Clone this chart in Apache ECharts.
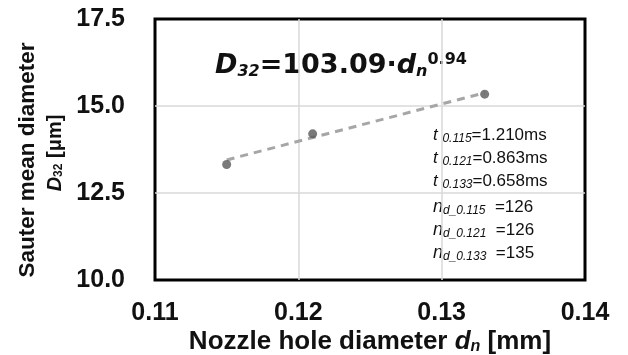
<!DOCTYPE html>
<html><head><meta charset="utf-8">
<script src="https://cdn.jsdelivr.net/npm/echarts@6/dist/echarts.min.js"></script>
<style>html,body{margin:0;padding:0;background:#fff}#c{width:628px;height:355px}</style>
</head><body><div id="c"></div>
<script>
const nozzleDiameters = [0.115, 0.121, 0.133];
const sauterDiameters = [13.32, 14.20, 15.34];
const trendX = [0.115, 0.133];
const trendY = [13.45, 15.38];
const xTicks = [0.11, 0.12, 0.13, 0.14];
const yTicks = [10.0, 12.5, 15.0, 17.5];
const injDurations = [['0.115','1.210'],['0.121','0.863'],['0.133','0.658']];
const holeCounts = [['0.115','126'],['0.121','126'],['0.133','135']];

const chart = echarts.init(document.getElementById('c'));
const F = 'Liberation Sans, Arial, sans-serif';
const sub = {fontFamily:F, fontSize:12, fontStyle:'italic', verticalAlign:'bottom', padding:[7,0,0,0], fill:'#111'};
const textLines = [];
injDurations.forEach(([d,v],i)=>{
  textLines.push({type:'text', left:433, top:127+i*23, style:{
    text:'{i|t }{s|'+d+'}{n|='+v+'ms}',
    rich:{i:{fontFamily:F,fontSize:17,fontStyle:'italic',fill:'#111'}, s:sub, n:{fontFamily:F,fontSize:17,fill:'#111'}}
  }});
});
holeCounts.forEach(([d,v],i)=>{
  textLines.push({type:'text', left:433, top:198+i*23, style:{
    text:'{i|n}{s|d_'+d+'}{n|  ='+v+'}',
    rich:{i:{fontFamily:F,fontSize:18,fontStyle:'italic',fill:'#111'}, s:sub, n:{fontFamily:F,fontSize:17,fill:'#111'}}
  }});
});
chart.setOption({
  animation:false,
  grid:{left:155,right:43,top:19,bottom:75,show:true,borderColor:'#000',borderWidth:3,containLabel:false,outerBoundsMode:'none'},
  xAxis:{type:'value',min:xTicks[0],max:xTicks[xTicks.length-1],interval:0.01,
    axisLine:{show:false},axisTick:{show:false},
    splitLine:{showMinLine:false,showMaxLine:false,lineStyle:{color:'#d9d9d9',width:1.5}},
    axisLabel:{formatter:v=>v.toFixed(2),fontFamily:F,fontWeight:'bold',fontSize:25,color:'#111',margin:21},
    name:'Nozzle hole diameter {i|d}{s|n} [mm]',nameLocation:'middle',nameGap:49,nameMoveOverlap:false,
    nameTextStyle:{fontFamily:F,fontWeight:'bold',fontSize:26,color:'#111',
      rich:{i:{fontFamily:F,fontWeight:'bold',fontStyle:'italic',fontSize:26,color:'#111'},
            s:{fontFamily:F,fontWeight:'bold',fontStyle:'italic',fontSize:16,color:'#111',verticalAlign:'bottom',padding:[10,0,0,0]}}}
  },
  yAxis:{type:'value',min:yTicks[0],max:yTicks[yTicks.length-1],interval:2.5,
    axisLine:{show:false},axisTick:{show:false},
    splitLine:{showMinLine:false,showMaxLine:false,lineStyle:{color:'#d9d9d9',width:1.5}},
    axisLabel:{formatter:v=>v.toFixed(1),fontFamily:F,fontWeight:'bold',fontSize:25,color:'#111',margin:30}
  },
  series:[
    {type:'line',data:trendX.map((x,i)=>[x,trendY[i]]),symbol:'none',
     lineStyle:{color:'#a6a6a6',width:3,type:[8,6]},z:2},
    {type:'scatter',data:nozzleDiameters.map((x,i)=>[x,sauterDiameters[i]]),symbolSize:9,
     itemStyle:{color:'#595959'},z:3}
  ],
  graphic:[
    {type:'text',x:28,y:160,rotation:Math.PI/2,style:{
      text:'Sauter mean diameter',align:'center',verticalAlign:'middle',
      fontFamily:F,fontWeight:'bold',fontSize:22.5,fill:'#111'}},
    {type:'text',x:55,y:153,rotation:Math.PI/2,style:{
      text:'{i|D}{s|32}{n| [μm]}',align:'center',verticalAlign:'middle',
      rich:{i:{fontFamily:F,fontStyle:'italic',fontWeight:'bold',fontSize:20,fill:'#111'},
            s:{fontFamily:F,fontWeight:'bold',fontSize:12,fill:'#111',verticalAlign:'bottom',padding:[8,0,0,0]},
            n:{fontFamily:F,fontWeight:'bold',fontSize:20,fill:'#111'}}}},
    {type:'text',left:215,top:52,style:{
      text:'{a|D}{b|32}{c|=103.09·}{a|d}{b|n}{p|0.94}',
      rich:{a:{fontFamily:'DejaVu Sans',fontWeight:'bold',fontStyle:'italic',fontSize:27,fill:'#111'},
            b:{fontFamily:'DejaVu Sans',fontWeight:'bold',fontStyle:'italic',fontSize:16,fill:'#111',verticalAlign:'bottom',padding:[12,0,0,0]},
            c:{fontFamily:'DejaVu Sans',fontWeight:'bold',fontSize:27,fill:'#111'},
            p:{fontFamily:'DejaVu Sans',fontWeight:'bold',fontSize:16,fill:'#111',verticalAlign:'top',padding:[0,0,12,0]}}
    }},
    ...textLines
  ]
});
</script></body></html>
